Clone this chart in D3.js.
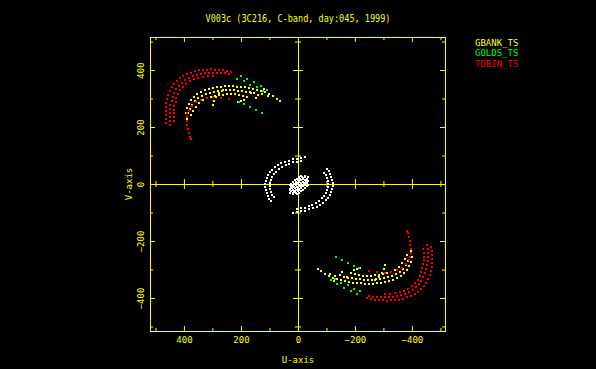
<!DOCTYPE html>
<html>
<head>
<meta charset="utf-8">
<script src="https://cdn.jsdelivr.net/npm/d3@7"></script>
<style>
  body { margin: 0; background: #000; }
  svg { display: block; }
  text { font-family: "DejaVu Sans Mono", monospace; fill: #ffff00; }
</style>
</head>
<body>
<div id="chart"></div>
<script>
'use strict';

//Data ======================================
//Only one half of the uv plane is listed, the conjugate points (-u,-v) get drawn too.

var seriesNames = ['GBANK_TS', 'GOLDS_TS', 'TDBIN_TS'];

//GBANK_TS baselines (yellow).
var gbankUV = [
  [397,254],[393,272],[386,286],[379,300],[369,310],[358,321],[344,328],[330,335],[316,338],[302,342],
  [288,345],[274,345],[260,347],[246,347],[232,347],[218,345],[204,345],[190,344],[176,342],[162,338],
  [148,335],[134,331],[120,328],[106,321],[92,314],[78,303],[68,295],
  [393,233],[390,251],[383,268],[376,282],[365,296],[355,307],[341,314],[327,321],[313,324],[299,328],
  [285,331],[271,331],[257,333],[243,333],[229,333],[215,331],[201,331],[187,328],[173,326],[159,323],[145,317],
  [379,247],[372,261],[362,275],[351,289],[337,300],[323,305],[309,310],[295,314],[281,317],[267,317],
  [253,319],[239,319],[225,319],[211,317],[197,314],[183,310],
  [267,335],[281,324],[292,310],[299,296],[302,282],
  [215,291],[204,294],[194,300],[169,324],[152,307],[124,338],[128,321],[110,311]
];

//GOLDS_TS baselines (green).
var goldsUV = [
  [216,372],[204,382],[181,372],[158,363],[134,349],[111,335],
  [193,366],[173,352],[148,345],[125,331],
  [211,291],[194,286],[173,275],[152,265],[131,252]
];

//TDBIN_TS baselines (red).
var tdbinUV = [
  [239,398],[253,401],[267,403],[281,405],[295,405],[309,407],[323,405],[337,405],[351,403],[365,400],
  [379,394],[393,389],[407,382],[418,375],[428,366],[439,356],[446,345],[453,331],[459,317],[463,303],
  [467,289],[468,275],[468,261],[468,247],[467,233],[465,219],
  [246,389],[260,393],[274,393],[288,394],[302,394],[316,394],[330,393],[344,391],[358,387],[372,382],
  [386,377],[400,368],[411,359],[421,349],[430,338],[437,324],[442,310],[447,296],[451,282],[453,268],
  [454,254],[454,240],[453,226],[451,212],
  [302,384],[320,382],[337,380],[355,377],[369,372],[383,365],[397,356],[407,345],[418,333],[425,321],
  [430,307],[433,293],[437,279],[439,265],[439,251],[439,237],[437,223],
  [246,303],[274,307],[302,310],[323,307],[344,300],[362,293],[376,279],[386,265],[391,251],[393,237],
  [393,223],[391,209],[390,195],[386,181],[383,170],[379,160]
];

//Short baselines, not in the legend (white): two arcs and the blob at the centre.
var shortUV = [
  [-20,97],[-6,95],[8,93],[22,90],[36,86],[50,81],[64,76],[75,69],[85,62],[96,53],[103,44],[110,34],
  [113,23],[117,13],[120,2],[118,-8],[117,-18],[113,-29],[110,-39],[104,-50],[99,-57],
  [-6,83],[8,81],[22,79],[36,74],[47,69],[61,62],[71,55],[80,46],[89,37],[94,27],[99,16],[101,6],
  [103,-5],[101,-15],[99,-26],[94,-36],[89,-43],
  [0,0],[-7,6],[-14,11],[-20,17],[-27,22],[-32,27],[-4,-5],[-11,1],[-18,6],[-25,12],[-30,16],
  [4,5],[-2,11],[-9,17],[-16,22],[-22,28],[-9,-11],[-16,-5],[-23,0],[-29,6],[9,11],[2,16],[-5,22],[-12,28],
  [-7,-8],[-14,-2],[-21,3],[-27,9],[-33,14],[7,8],[0,14],[-7,19],[-13,25],[-20,30],
  [-13,-16],[-20,-10],[-27,-5],[-33,1],[13,16],[6,22],[-1,27],[-7,33]
];

//Ticks.
var labelTicks = [400, 200, 0, -200, -400];
var minorTicks = [500, 300, 100, -100, -300, -500];

//Set-up =====================================
var width = 596;
var height = 369;
var yellow = '#ffff00';

var svg = d3.select('#chart').append('svg')
  .attr('width', width)
  .attr('height', height)
  .style('background', '#000');

//U runs right to left.
var x = d3.scaleLinear().domain([519, -516]).range([150, 445]);
var y = d3.scaleLinear().domain([-516, 516]).range([331, 37]);

var tickFmt = function (d) { return d < 0 ? '\u2212' + Math.abs(d) : String(d); };

function styleAxis(g) {
  g.select('.domain').remove();
  g.selectAll('line').attr('stroke', yellow);
  g.selectAll('text').attr('fill', yellow).style('font-size', '9px');
}

//Frame.
svg.append('rect')
  .attr('x', 150.5).attr('y', 37.5)
  .attr('width', 295).attr('height', 294)
  .attr('fill', 'none')
  .attr('stroke', yellow);

//Bottom axis with labels.
svg.append('g').attr('transform', 'translate(0,331)')
  .call(d3.axisBottom(x).tickValues(labelTicks).tickSize(-5).tickPadding(6).tickFormat(tickFmt))
  .call(styleAxis);
svg.append('g').attr('transform', 'translate(0,331)')
  .call(d3.axisBottom(x).tickValues(minorTicks).tickSize(-3).tickFormat(''))
  .call(styleAxis);

//Top axis, ticks only.
svg.append('g').attr('transform', 'translate(0,37)')
  .call(d3.axisTop(x).tickValues(labelTicks).tickSize(-5).tickFormat(''))
  .call(styleAxis);
svg.append('g').attr('transform', 'translate(0,37)')
  .call(d3.axisTop(x).tickValues(minorTicks).tickSize(-3).tickFormat(''))
  .call(styleAxis);

//Left axis with rotated labels.
var leftAxis = svg.append('g').attr('transform', 'translate(150,0)')
  .call(d3.axisLeft(y).tickValues(labelTicks).tickSize(-5).tickFormat(tickFmt))
  .call(styleAxis);
leftAxis.selectAll('text')
  .attr('transform', 'rotate(-90)')
  .attr('x', 0)
  .attr('y', -6)
  .attr('dy', 0)
  .attr('text-anchor', 'middle');
svg.append('g').attr('transform', 'translate(150,0)')
  .call(d3.axisLeft(y).tickValues(minorTicks).tickSize(-3).tickFormat(''))
  .call(styleAxis);

//Right axis, ticks only.
svg.append('g').attr('transform', 'translate(445,0)')
  .call(d3.axisRight(y).tickValues(labelTicks).tickSize(-5).tickFormat(''))
  .call(styleAxis);
svg.append('g').attr('transform', 'translate(445,0)')
  .call(d3.axisRight(y).tickValues(minorTicks).tickSize(-3).tickFormat(''))
  .call(styleAxis);

//Zero lines through the middle, with crossing ticks.
function zeroAxis(axis, pos, ticks, size, keepDomain) {
  var g = svg.append('g').attr('transform', pos)
    .call(axis.tickValues(ticks).tickSize(size).tickSizeOuter(0).tickFormat(''));
  g.selectAll('line').attr('stroke', yellow);
  if (keepDomain) {
    g.select('.domain').attr('stroke', yellow);
  } else {
    g.select('.domain').remove();
  }
}
var vx = 'translate(' + Math.round(x(0)) + ',0)';
var hy = 'translate(0,' + Math.round(y(0)) + ')';
zeroAxis(d3.axisLeft(y), vx, labelTicks, 5, true);
zeroAxis(d3.axisRight(y), vx, labelTicks, 5, false);
zeroAxis(d3.axisLeft(y), vx, minorTicks, 3, false);
zeroAxis(d3.axisRight(y), vx, minorTicks, 3, false);
zeroAxis(d3.axisTop(x), hy, labelTicks, 5, true);
zeroAxis(d3.axisBottom(x), hy, labelTicks, 5, false);
zeroAxis(d3.axisTop(x), hy, minorTicks, 3, false);
zeroAxis(d3.axisBottom(x), hy, minorTicks, 3, false);

//Points =====================================
function withConjugate(pts) {
  return pts.concat(pts.map(function (d) { return [-d[0], -d[1]]; }));
}

function plotPoints(pts, colour) {
  svg.append('g')
    .attr('shape-rendering', 'crispEdges')
    .selectAll('rect')
    .data(withConjugate(pts))
    .enter().append('rect')
    .attr('x', function (d) { return Math.round(x(d[0])); })
    .attr('y', function (d) { return Math.round(y(d[1])); })
    .attr('width', 2)
    .attr('height', 2)
    .attr('fill', colour);
}

plotPoints(shortUV, '#ffffff');
plotPoints(gbankUV, '#ffff00');
plotPoints(goldsUV, '#00ff00');
plotPoints(tdbinUV, '#ff0000');

//Text =======================================
svg.append('text')
  .attr('x', 298)
  .attr('y', 21.5)
  .attr('text-anchor', 'middle')
  .attr('textLength', 185)
  .attr('lengthAdjust', 'spacingAndGlyphs')
  .style('font-size', '10px')
  .text('V003c (3C216, C-band, day:045, 1999)');

svg.append('text')
  .attr('x', 298)
  .attr('y', 362.5)
  .attr('text-anchor', 'middle')
  .style('font-size', '9px')
  .text('U-axis');

svg.append('text')
  .attr('transform', 'translate(131.5,184) rotate(-90)')
  .attr('text-anchor', 'middle')
  .style('font-size', '9px')
  .text('V-axis');

//Legend.
var legendColours = ['#ffff00', '#00ff00', '#ff0000'];
var legendY = [45.5, 56, 66.5];
svg.append('g').selectAll('text')
  .data(seriesNames)
  .enter().append('text')
  .attr('x', 475)
  .attr('y', function (d, i) { return legendY[i]; })
  .style('font-size', '9px')
  .style('fill', function (d, i) { return legendColours[i]; })
  .text(function (d) { return d; });
</script>
</body>
</html>
